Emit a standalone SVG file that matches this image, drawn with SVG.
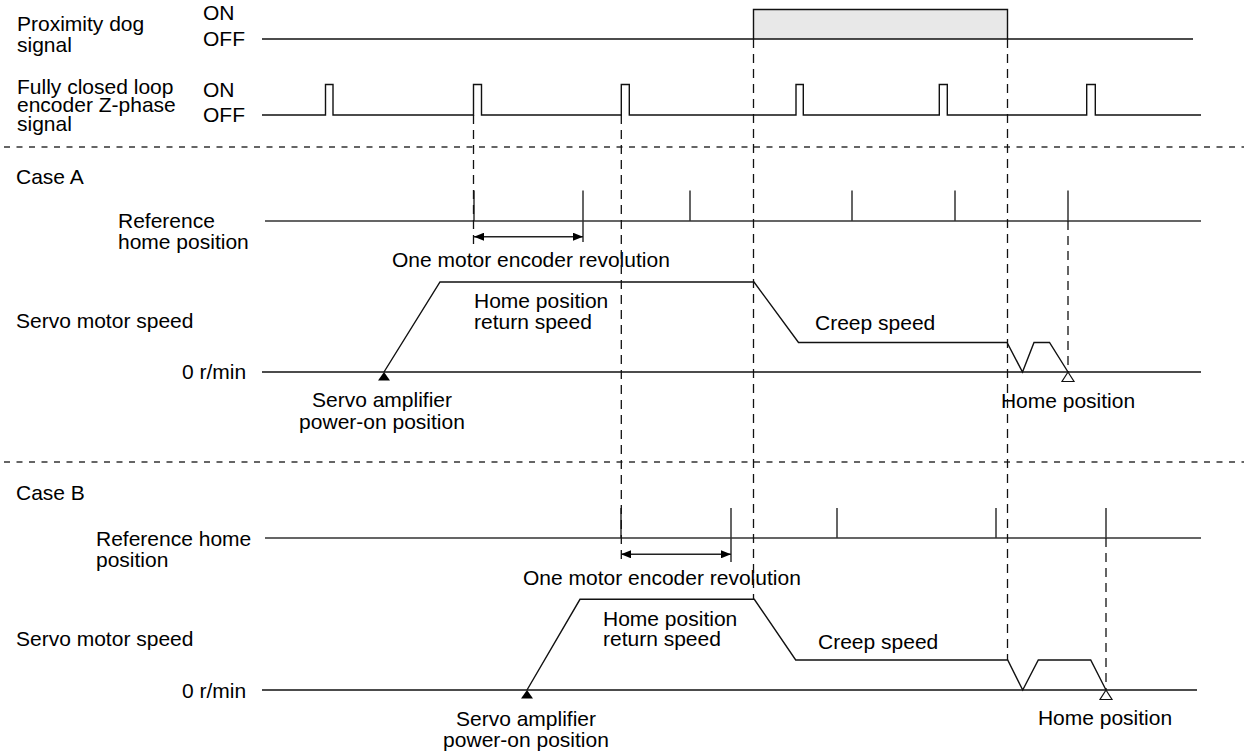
<svg xmlns="http://www.w3.org/2000/svg" width="1244" height="751" viewBox="0 0 1244 751">
<style>
text{font-family:"Liberation Sans",Arial,Helvetica,sans-serif;font-size:21px;fill:#000}
.mid{text-anchor:middle}
.ln{fill:none;stroke:#111;stroke-width:1.4}
.ref{fill:none;stroke:#333;stroke-width:1.5}
.dash{fill:none;stroke:#111;stroke-width:1.3;stroke-dasharray:9 6}
.sep{fill:none;stroke:#333;stroke-width:1.3;stroke-dasharray:6 6.5}
.dim{fill:none;stroke:#222;stroke-width:1.4;marker-start:url(#ah);marker-end:url(#ah)}
</style>
<defs>
<marker id="ah" viewBox="0 0 10 8" refX="10" refY="4" markerWidth="10" markerHeight="8" markerUnits="userSpaceOnUse" orient="auto-start-reverse">
<path d="M0,0 L10,4 L0,8 z" fill="#000"/>
</marker>
</defs>
<rect width="1244" height="751" fill="#fff"/>

<g id="separators">
<line class="sep" x1="4" y1="147" x2="1244" y2="147"/>
<line class="sep" x1="4" y1="462" x2="1244" y2="462"/>
</g>

<g id="proximity-dog">
<text x="17" y="31">Proximity dog</text>
<text x="17" y="52">signal</text>
<text x="203" y="20">ON</text>
<text x="203" y="46">OFF</text>
<path d="M753.5,39 V9.5 H1007.5 V39" fill="#e8e8e8" stroke="#111" stroke-width="1.4"/>
<path class="ln" d="M262,39 H1193"/>
</g>

<g id="z-phase">
<text x="17" y="94">Fully closed loop</text>
<text x="17" y="112">encoder Z-phase</text>
<text x="17" y="131">signal</text>
<text x="203" y="97">ON</text>
<text x="203" y="122">OFF</text>
<path class="ln" d="M262,115 H325.5 V84.5 H333 V115 H473.5 V84.5 H481.5 V115 H621.3 V84.5 H629.3 V115 H796 V84.5 H803.3 V115 H939.3 V84.5 H947.3 V115 H1086.7 V84.5 H1095.3 V115 H1201"/>
</g>

<g id="case-a">
<text x="16" y="184">Case A</text>
<text x="118" y="228">Reference</text>
<text x="118" y="249">home position</text>
<path class="ref" d="M265,221 H1201 M474,190.5 V221 M583,190.5 V242 M690,190.5 V221 M852,190.5 V221 M955,190.5 V221 M1068,190.5 V221"/>
<line class="dim" x1="474" y1="236.7" x2="583" y2="236.7"/>
<text x="392" y="267">One motor encoder revolution</text>
<text x="16" y="328">Servo motor speed</text>
<text x="182" y="379">0 r/min</text>
<path class="ln" d="M262,372 H1201"/>
<path class="ln" d="M384,372 L440,282 H754 L798.5,342.5 H1007 L1022.5,372 L1034,342.5 H1049.5 L1068,372"/>
<text x="474" y="308">Home position</text>
<text x="474" y="329">return speed</text>
<text x="815" y="330">Creep speed</text>
<path d="M384,372 L390,380.5 H378 z" fill="#000"/>
<path d="M1068,372 L1074,381.5 H1062 z" fill="#fff" stroke="#111" stroke-width="1.2"/>
<text class="mid" x="382" y="407">Servo amplifier</text>
<text class="mid" x="382" y="429">power-on position</text>
<text class="mid" x="1068" y="408">Home position</text>
</g>

<g id="case-b">
<text x="16" y="500">Case B</text>
<text x="96" y="546">Reference home</text>
<text x="96" y="567">position</text>
<path class="ref" d="M265,538 H1201 M621,508 V538 M731,508 V562 M837,508 V538 M996,508 V538 M1106,508 V538"/>
<line class="dim" x1="621" y1="554.3" x2="731" y2="554.3"/>
<text x="523" y="585">One motor encoder revolution</text>
<text x="16" y="646">Servo motor speed</text>
<text x="182" y="698">0 r/min</text>
<path class="ln" d="M262,690 H1197"/>
<path class="ln" d="M527,690 L580,599.3 H754.3 L795.7,660 H1007.7 L1022.7,690 L1038.3,660 H1090.7 L1106,690"/>
<text x="603" y="626">Home position</text>
<text x="603" y="646">return speed</text>
<text x="818" y="649">Creep speed</text>
<path d="M527,690 L533,698.5 H521 z" fill="#000"/>
<path d="M1106,690 L1112,699.5 H1100 z" fill="#fff" stroke="#111" stroke-width="1.2"/>
<text class="mid" x="526" y="726">Servo amplifier</text>
<text class="mid" x="526" y="747">power-on position</text>
<text class="mid" x="1105" y="725">Home position</text>
</g>

<g id="connectors">
<line class="dash" x1="473.5" y1="115" x2="473.5" y2="246"/>
<line class="dash" x1="621.3" y1="115" x2="621.3" y2="562"/>
<line class="dash" x1="753.5" y1="39" x2="753.5" y2="599"/>
<line class="dash" x1="1007.5" y1="39" x2="1007.5" y2="660"/>
<line class="dash" x1="1068" y1="221" x2="1068" y2="372"/>
<line class="dash" x1="1106" y1="538" x2="1106" y2="690"/>
</g>
</svg>
